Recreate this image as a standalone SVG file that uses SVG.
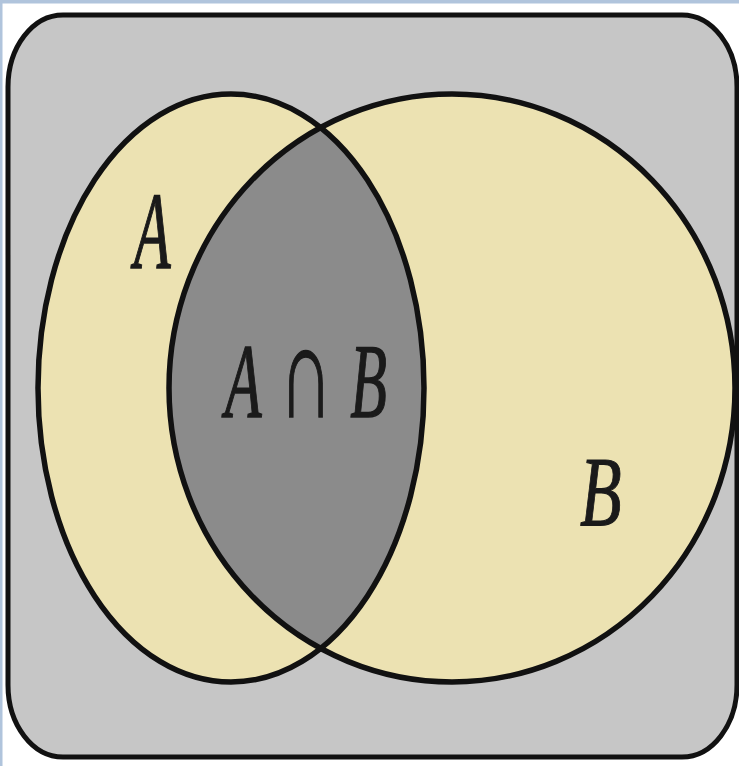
<svg xmlns="http://www.w3.org/2000/svg" width="739" height="766" viewBox="0 0 739 766">
  <style>
    .set { fill: #ece2b2; stroke: none; }
    .outline { fill: none; stroke: #111; stroke-width: 5.5; }
    .lbl { font-family: "Liberation Serif", "DejaVu Serif", serif; font-style: italic; font-size: 60px; fill: #1a1a1a; stroke: #1a1a1a; stroke-width: 0.8; }
    .op { font-style: normal; font-size: 74px; }
  </style>
  <defs>
    <clipPath id="clipA">
      <ellipse cx="231" cy="388" rx="193" ry="294"/>
    </clipPath>
  </defs>
  <rect x="0" y="0" width="739" height="766" fill="#ffffff"/>
  <rect x="0" y="0" width="739" height="3.5" fill="#b0c4dc"/>
  <rect x="0" y="0" width="2.5" height="766" fill="#b0c4dc"/>
  <g id="universe">
    <rect x="8" y="15" width="729" height="742" rx="55" ry="72" fill="#c6c6c6" stroke="#111" stroke-width="5"/>
  </g>
  <g id="setA">
    <ellipse class="set" cx="231" cy="388" rx="193" ry="294"/>
  </g>
  <g id="setB">
    <ellipse class="set" cx="452" cy="388" rx="283" ry="294"/>
  </g>
  <g id="intersection">
    <ellipse cx="452" cy="388" rx="283" ry="294" fill="#8b8b8b" clip-path="url(#clipA)"/>
  </g>
  <g id="outlines">
    <ellipse class="outline" cx="231" cy="388" rx="193" ry="294"/>
    <ellipse class="outline" cx="452" cy="388" rx="283" ry="294"/>
  </g>
  <g id="labels">
    <text class="lbl" transform="translate(134,268) scale(1,1.82)">A</text>
    <text class="lbl" transform="translate(225,417) scale(1,1.78)" textLength="162" lengthAdjust="spacing">A<tspan class="op">∩</tspan>B</text>
    <text class="lbl" transform="translate(580,525) scale(1,1.45)" style="font-size:68px">B</text>
  </g>
</svg>
